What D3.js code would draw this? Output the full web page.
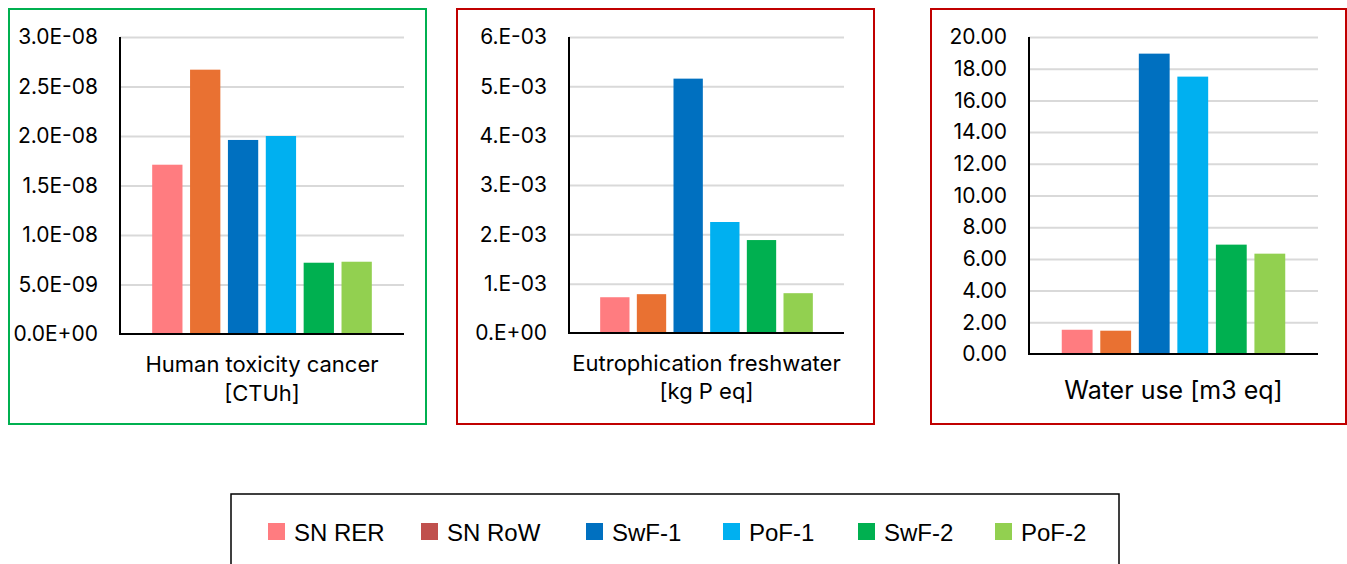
<!DOCTYPE html>
<html>
<head>
<meta charset="utf-8">
<script src="https://cdn.jsdelivr.net/npm/d3@7"></script>
<style>
  html, body { margin: 0; padding: 0; background: #fff; }
  svg { display: block; }
  .tick text { font-family: Inter, "Open Sans", sans-serif; }
</style>
</head>
<body>
<svg id="chart" width="1347" height="564"></svg>
<script>
// ---- data ----
const series = ["SN RER", "SN RoW", "SwF-1", "PoF-1", "SwF-2", "PoF-2"];
const barColors = ["#FF7C80", "#E97132", "#0070C0", "#00B0F0", "#00B050", "#92D050"];
const legendColors = ["#FF7C80", "#C0504D", "#0070C0", "#00B0F0", "#00B050", "#92D050"];

const humanToxValues = [1.71e-8, 2.67e-8, 1.96e-8, 2.00e-8, 0.72e-8, 0.73e-8];
const eutrophValues = [0.725e-3, 0.787e-3, 5.156e-3, 2.25e-3, 1.884e-3, 0.807e-3];
const waterUseValues = [1.53, 1.47, 18.95, 17.50, 6.90, 6.33];

const humanToxTicks = [0, 5e-9, 1e-8, 1.5e-8, 2e-8, 2.5e-8, 3e-8];
const humanToxTickLabels = ["0.0E+00", "5.0E-09", "1.0E-08", "1.5E-08", "2.0E-08", "2.5E-08", "3.0E-08"];
const eutrophTicks = [0, 1e-3, 2e-3, 3e-3, 4e-3, 5e-3, 6e-3];
const eutrophTickLabels = ["0.E+00", "1.E-03", "2.E-03", "3.E-03", "4.E-03", "5.E-03", "6.E-03"];
const waterUseTicks = [0, 2, 4, 6, 8, 10, 12, 14, 16, 18, 20];
const waterUseTickLabels = ["0.00", "2.00", "4.00", "6.00", "8.00", "10.00", "12.00", "14.00", "16.00", "18.00", "20.00"];

const humanToxLabel = ["Human toxicity cancer", "[CTUh]"];
const eutrophLabel = ["Eutrophication freshwater", "[kg P eq]"];
const waterUseLabel = ["Water use [m3 eq]"];

// ---- layout ----
const panels = [
  { values: humanToxValues, ticks: humanToxTicks, tickLabels: humanToxTickLabels, label: humanToxLabel,
    border: [9, 9, 426, 424], borderColor: "#00B050", plot: [120, 37, 404, 334], labelY: [372, 401], labelSize: 22 },
  { values: eutrophValues, ticks: eutrophTicks, tickLabels: eutrophTickLabels, label: eutrophLabel,
    border: [457, 9, 874, 424], borderColor: "#C00000", plot: [569, 37, 844, 333], labelY: [371, 399], labelSize: 22 },
  { values: waterUseValues, ticks: waterUseTicks, tickLabels: waterUseTickLabels, label: waterUseLabel,
    border: [931, 9, 1346, 424], borderColor: "#C00000", plot: [1029, 37, 1318, 354], labelY: [399], labelSize: 25 }
];

const svg = d3.select("#chart");

panels.forEach(p => {
  const [bx0, by0, bx1, by1] = p.border;
  svg.append("rect")
    .attr("x", bx0).attr("y", by0)
    .attr("width", bx1 - bx0).attr("height", by1 - by0)
    .attr("fill", "none").attr("stroke", p.borderColor).attr("stroke-width", 2);

  const [x0, y0, x1, y1] = p.plot;
  const x = d3.scaleBand().domain(series).range([x0, x1]).paddingInner(0.2).paddingOuter(0.85);
  const y = d3.scaleLinear().domain([p.ticks[0], p.ticks[p.ticks.length - 1]]).range([y1, y0]);

  // gridlines
  const grid = svg.append("g").attr("transform", `translate(${x0},0)`)
    .call(d3.axisLeft(y).tickValues(p.ticks.slice(1)).tickSize(-(x1 - x0)).tickFormat(""));
  grid.select(".domain").remove();
  grid.selectAll(".tick line").attr("stroke", "#D9D9D9").attr("stroke-width", 2);

  // bars
  svg.append("g").selectAll("rect")
    .data(p.values)
    .join("rect")
    .attr("x", (d, i) => x(series[i]))
    .attr("y", d => y(d))
    .attr("width", x.bandwidth())
    .attr("height", d => y(0) - y(d))
    .attr("fill", (d, i) => barColors[i]);

  // y axis labels
  const ay = svg.append("g").attr("transform", `translate(${x0},0)`)
    .call(d3.axisLeft(y).tickValues(p.ticks).tickSize(0).tickPadding(22)
      .tickFormat((d, i) => p.tickLabels[i]));
  ay.select(".domain").remove();
  ay.selectAll(".tick text").attr("font-size", 21).attr("fill", "#000");

  // axis lines
  svg.append("line").attr("x1", x0).attr("x2", x0).attr("y1", y0).attr("y2", y1 + 1)
    .attr("stroke", "#000").attr("stroke-width", 2);
  svg.append("line").attr("x1", x0).attr("x2", x1).attr("y1", y1).attr("y2", y1)
    .attr("stroke", "#000").attr("stroke-width", 2);

  // category label
  const cx = (x0 + x1) / 2;
  p.label.forEach((t, i) => {
    svg.append("text")
      .attr("x", cx).attr("y", p.labelY[i])
      .attr("text-anchor", "middle")
      .attr("font-family", "Inter, 'Open Sans', sans-serif")
      .attr("font-size", p.labelSize)
      .attr("fill", "#000")
      .text(t);
  });
});

// ---- legend ----
svg.append("rect")
  .attr("x", 231).attr("y", 494).attr("width", 888).attr("height", 100)
  .attr("fill", "#fff").attr("stroke", "#000").attr("stroke-width", 1.5);

const legendX = [268, 421, 586, 723, 858, 995];
const legend = svg.append("g");
series.forEach((s, i) => {
  legend.append("rect")
    .attr("x", legendX[i]).attr("y", 523).attr("width", 17).attr("height", 17)
    .attr("fill", legendColors[i]);
  legend.append("text")
    .attr("x", legendX[i] + 26).attr("y", 541)
    .attr("font-family", "'Liberation Sans Narrow', 'Liberation Sans', sans-serif")
    .attr("font-size", 24)
    .attr("fill", "#000")
    .text(s);
});
</script>
</body>
</html>
